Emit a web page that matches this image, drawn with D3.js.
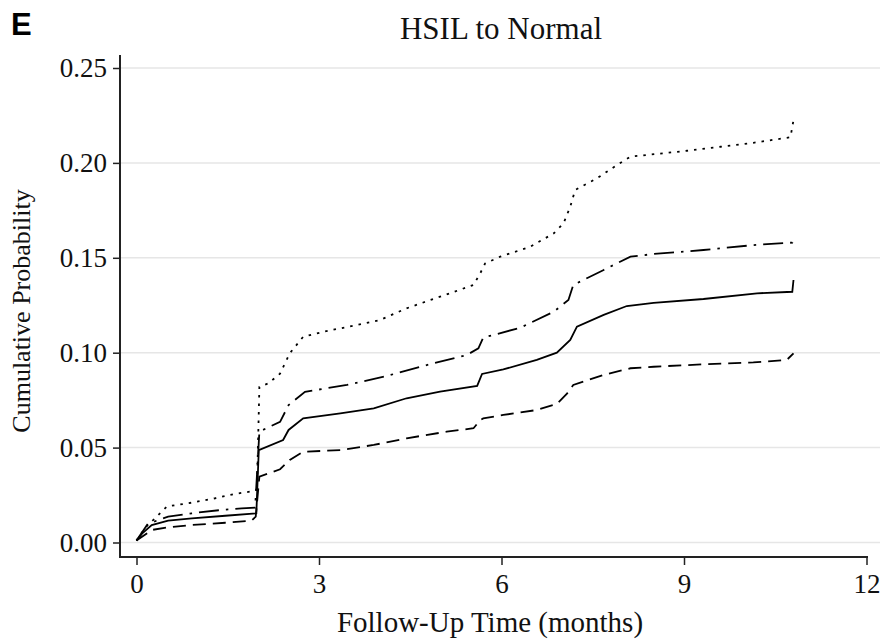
<!DOCTYPE html>
<html>
<head>
<meta charset="utf-8">
<script src="https://cdn.jsdelivr.net/npm/d3@7"></script>
<style>
  body { margin: 0; background: #fff; }
  svg { display: block; }
</style>
</head>
<body>
<script>
// tick values
var xTicks = [0, 3, 6, 9, 12];
var yTicks = [0, 0.05, 0.10, 0.15, 0.20, 0.25];

// dotted curve (upper)
var dotT = [0, 0.15, 0.33, 0.5, 0.91, 1.29, 1.62, 1.87, 1.98, 2.02, 2.17, 2.36, 2.52, 2.74, 3.07, 3.62, 4.0, 4.44, 4.99, 5.54, 5.65, 5.73, 5.98, 6.47, 6.86, 7.02, 7.13, 7.21, 7.57, 7.9, 8.12, 8.39, 9.05, 9.6, 10.14, 10.75, 10.8];
var dotP = [0.001, 0.008, 0.0136, 0.019, 0.021, 0.0233, 0.0256, 0.0268, 0.028, 0.082, 0.0839, 0.089, 0.0997, 0.1084, 0.111, 0.1146, 0.1172, 0.1234, 0.1295, 0.1357, 0.1418, 0.147, 0.1506, 0.1558, 0.1629, 0.1682, 0.1769, 0.1857, 0.1919, 0.1989, 0.2033, 0.2042, 0.2064, 0.2085, 0.2106, 0.2135, 0.2226];

// dash-dot curve
var ddT = [0, 0.19, 0.36, 0.52, 0.91, 1.35, 1.73, 1.95, 2.02, 2.36, 2.5, 2.77, 3.46, 4.11, 4.77, 5.43, 5.62, 5.7, 5.92, 6.31, 6.86, 7.1, 7.18, 7.68, 8.12, 8.5, 9.32, 10.14, 10.78, 10.8];
var ddP = [0.001, 0.010, 0.0118, 0.0136, 0.0154, 0.017, 0.018, 0.0184, 0.0584, 0.0636, 0.0724, 0.0794, 0.083, 0.0877, 0.0935, 0.0988, 0.1023, 0.108, 0.1098, 0.1132, 0.1216, 0.1278, 0.1357, 0.1436, 0.1506, 0.152, 0.1541, 0.1567, 0.158, 0.1608];

// solid curve
var solT = [0, 0.1, 0.25, 0.52, 0.91, 1.46, 1.97, 2.01, 2.41, 2.5, 2.74, 3.35, 3.9, 4.44, 4.99, 5.6, 5.68, 6.03, 6.58, 6.91, 7.13, 7.24, 7.68, 8.06, 8.5, 9.32, 10.2, 10.78, 10.8];
var solP = [0.001, 0.005, 0.0092, 0.0115, 0.0127, 0.0141, 0.0154, 0.0487, 0.054, 0.0593, 0.0654, 0.068, 0.0707, 0.076, 0.0795, 0.0825, 0.0888, 0.0912, 0.0962, 0.100, 0.1067, 0.1137, 0.1199, 0.1246, 0.1263, 0.1283, 0.1313, 0.1321, 0.1383];

// dashed curve (lower)
var dashT = [0, 0.25, 0.52, 0.91, 1.46, 1.89, 1.96, 2.02, 2.36, 2.52, 2.74, 3.35, 3.9, 4.44, 5.1, 5.54, 5.65, 5.7, 6.03, 6.58, 6.91, 7.08, 7.18, 7.68, 8.12, 8.5, 9.32, 10.14, 10.69, 10.8];
var dashP = [0.001, 0.0066, 0.008, 0.0092, 0.0104, 0.0115, 0.0136, 0.0347, 0.0386, 0.0435, 0.0478, 0.0487, 0.0514, 0.0549, 0.0584, 0.0602, 0.0645, 0.0654, 0.0672, 0.0698, 0.073, 0.0786, 0.083, 0.0883, 0.0918, 0.0926, 0.0939, 0.0949, 0.0962, 0.0997];

var serif = "'Liberation Serif', 'Times New Roman', serif";

var svg = d3.select("body").append("svg")
    .attr("width", 885)
    .attr("height", 641);

var x = d3.scaleLinear().domain([0, 12]).range([136.5, 866.5]);
var y = d3.scaleLinear().domain([0, 0.25]).range([542.5, 68]);

//Gridlines
svg.selectAll(".grid")
    .data(yTicks)
    .enter()
    .append("line")
    .attr("class", "grid")
    .attr("x1", 121)
    .attr("x2", 880)
    .attr("y1", function(d) { return y(d); })
    .attr("y2", function(d) { return y(d); })
    .style("stroke", "#e6e6e6")
    .style("stroke-width", "1.5px");

//Axes
var yAxis = svg.append("g")
    .attr("transform", "translate(120,0)")
    .call(d3.axisLeft(y).tickValues(yTicks).tickFormat(d3.format(".2f")).tickSize(7).tickPadding(6).tickSizeOuter(0));
var xAxis = svg.append("g")
    .attr("transform", "translate(0,557)")
    .call(d3.axisBottom(x).tickValues(xTicks).tickSize(8).tickPadding(9).tickSizeOuter(0));

svg.selectAll(".domain").remove();
svg.selectAll(".tick line").style("stroke", "#222").style("stroke-width", "1.5px");
svg.selectAll(".tick text")
    .style("font-family", serif)
    .style("font-size", "27px")
    .style("fill", "#111");

svg.append("line")
    .attr("x1", 120).attr("x2", 120)
    .attr("y1", 55).attr("y2", 557.5)
    .style("stroke", "#222").style("stroke-width", "2px");
svg.append("line")
    .attr("x1", 119).attr("x2", 868)
    .attr("y1", 557).attr("y2", 557)
    .style("stroke", "#222").style("stroke-width", "2px");

//Curves
var series = [
    {t: dotT, p: dotP, dash: "2.5,6"},
    {t: ddT, p: ddP, dash: "20,7,2.5,7"},
    {t: solT, p: solP, dash: null},
    {t: dashT, p: dashP, dash: "13,7"}
];

var line = d3.line()
    .x(function(d) { return x(d[0]); })
    .y(function(d) { return y(d[1]); });

series.forEach(function(s) {
    var pts = s.t.map(function(t, i) { return [t, s.p[i]]; });
    svg.append("path")
        .attr("d", line(pts))
        .style("fill", "none")
        .style("stroke", "#000")
        .style("stroke-width", "1.8px")
        .style("stroke-dasharray", s.dash);
});

//Texts
svg.append("text")
    .attr("x", 501)
    .attr("y", 39)
    .attr("text-anchor", "middle")
    .style("font-family", serif)
    .style("font-size", "31px")
    .style("fill", "#111")
    .text("HSIL to Normal");

svg.append("text")
    .attr("x", 490)
    .attr("y", 632)
    .attr("text-anchor", "middle")
    .style("font-family", serif)
    .style("font-size", "29px")
    .style("fill", "#111")
    .text("Follow-Up Time (months)");

svg.append("text")
    .attr("transform", "translate(30,311) rotate(-90)")
    .attr("text-anchor", "middle")
    .style("font-family", serif)
    .style("font-size", "26px")
    .style("fill", "#111")
    .text("Cumulative Probability");

svg.append("text")
    .attr("x", 11)
    .attr("y", 35)
    .style("font-family", "'Liberation Sans', Arial, sans-serif")
    .style("font-weight", "bold")
    .style("font-size", "31px")
    .style("fill", "#000")
    .text("E");
</script>
</body>
</html>
